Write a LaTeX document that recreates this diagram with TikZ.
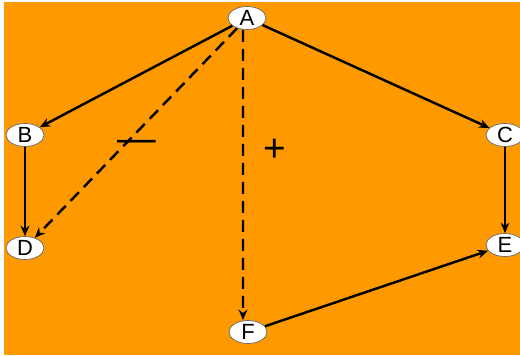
\documentclass[tikz,border=0pt]{standalone}
\usepackage{fontspec}
\setmainfont{Liberation Sans}
\usepackage{xcolor}
\usetikzlibrary{arrows.meta, shapes.geometric}

\definecolor{bgorange}{RGB}{255,153,0}

\begin{document}
\begin{tikzpicture}[x=0.02cm, y=-0.02cm, >={Stealth[length=6pt,width=5pt]},
        vertex/.style={ellipse, draw=black!60, line width=0.4pt, fill=white, minimum width=0.76cm, minimum height=0.46cm, inner sep=0pt, font=\fontsize{12.5}{12.5}\selectfont},
        edge/.style={->, line width=1.4pt},
        dashedge/.style={->, line width=1.4pt, dash pattern=on 0.24cm off 0.14cm},
        sign/.style={font=\fontsize{22}{22}\selectfont, inner sep=0pt}]

        % background
        \fill[white] (0,0) rectangle (520,355);
        \fill[bgorange] (4,2) rectangle (520,355);
        \useasboundingbox (0,0) rectangle (520,355);

        \node (a) [vertex] at (247,18) {A};
        \node (b) [vertex] at (25,135) {B};
        \node (c) [vertex] at (505,135) {C};
        \node (d) [vertex] at (25,248) {D};
        \node (e) [vertex] at (505,245) {E};
        \node (f) [vertex] at (248,332) {F};

        \node (minus) [sign] at (137,146) {—};
        \node (plus) [sign] at (275,150) {+};

        \draw[edge] (a) -- (b);
        \draw[edge] (a) -- (c);
        \draw[edge] (b) -- (d);
        \draw[->, line width=0.6pt] (c) -- (e);
        \draw[edge] (f) -- (e);
        \draw[dashedge] (a) -- (d);
        \draw[dashedge] ([xshift=-0.08cm]a.south) -- ([xshift=-0.1cm]f.north);
    \end{tikzpicture}
\end{document}
